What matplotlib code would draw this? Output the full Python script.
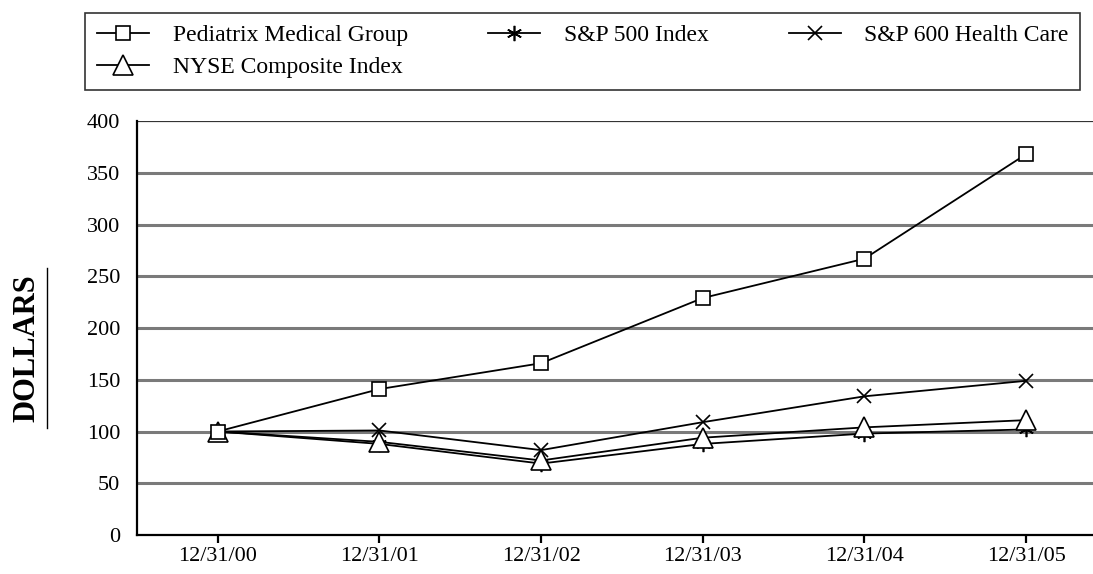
import matplotlib
matplotlib.use('Agg')
from matplotlib import pyplot as plt
from matplotlib.lines import Line2D

DATES = ['12/31/00', '12/31/01', '12/31/02', '12/31/03', '12/31/04', '12/31/05']
PEDIATRIX = [100, 141, 166, 229, 267, 368]
NYSE = [100, 90, 72, 94, 104, 111]
SP500 = [100, 88, 69, 88, 98, 102]
SP600_HC = [100, 101, 82, 109, 134, 149]
YTICKS = [0, 50, 100, 150, 200, 250, 300, 350, 400]

plt.rcParams['font.family'] = ['Liberation Serif', 'DejaVu Serif']

fig = plt.figure(figsize=(10.93, 5.74), dpi=100)
ax = fig.add_axes([0.1253, 0.068, 0.88, 0.721])

x = list(range(len(DATES)))
common = dict(color='black', linewidth=1.3, markerfacecolor='white',
              markeredgecolor='black', markeredgewidth=1.2)
ax.plot(x, SP500, marker=(6, 2, 0), markersize=11, label='S&P 500 Index', **common)
ax.plot(x, SP600_HC, marker='x', markersize=10, label='S&P 600 Health Care', **common)
ax.plot(x, NYSE, marker='^', markersize=14, label='NYSE Composite Index', **common)
ax.plot(x, PEDIATRIX, marker='s', markersize=10, label='Pediatrix Medical Group', **common)

ax.set_xlim(-0.5, 5.45)
ax.set_ylim(0, 400)
ax.set_yticks(YTICKS)
ax.set_xticks(x)
ax.set_xticklabels(DATES)
for y in YTICKS[1:-1]:
    ax.axhline(y, color='#7a7a7a', linewidth=2.2, zorder=0)
ax.axhline(400, color='#333333', linewidth=1.6, zorder=0)

for side in ['top', 'right']:
    ax.spines[side].set_visible(False)
ax.spines['left'].set_linewidth(1.6)
ax.spines['bottom'].set_linewidth(1.6)
ax.tick_params(axis='y', length=0, labelsize=16, pad=12)
ax.tick_params(axis='x', length=6, width=1.6, labelsize=16, pad=3)

fig.text(0.025, 0.394, 'DOLLARS', rotation=90, fontsize=22, fontweight='bold',
         ha='center', va='center')
fig.add_artist(Line2D([0.043, 0.043], [0.254, 0.533], color='black', linewidth=1,
                      transform=fig.transFigure))

handles, labels = ax.get_legend_handles_labels()
order = [3, 2, 0, 1]
leg = fig.legend([handles[i] for i in order], [labels[i] for i in order],
                 loc='upper left', bbox_to_anchor=(0.078, 0.978),
                 ncol=3, fontsize=17, frameon=True, fancybox=False,
                 edgecolor='black', handlelength=2.2, borderpad=0.5,
                 borderaxespad=0, labelspacing=0.45, columnspacing=3.4,
                 handletextpad=1.0)
leg.get_frame().set_linewidth(1.2)

fig.savefig('out.png', dpi=100)
